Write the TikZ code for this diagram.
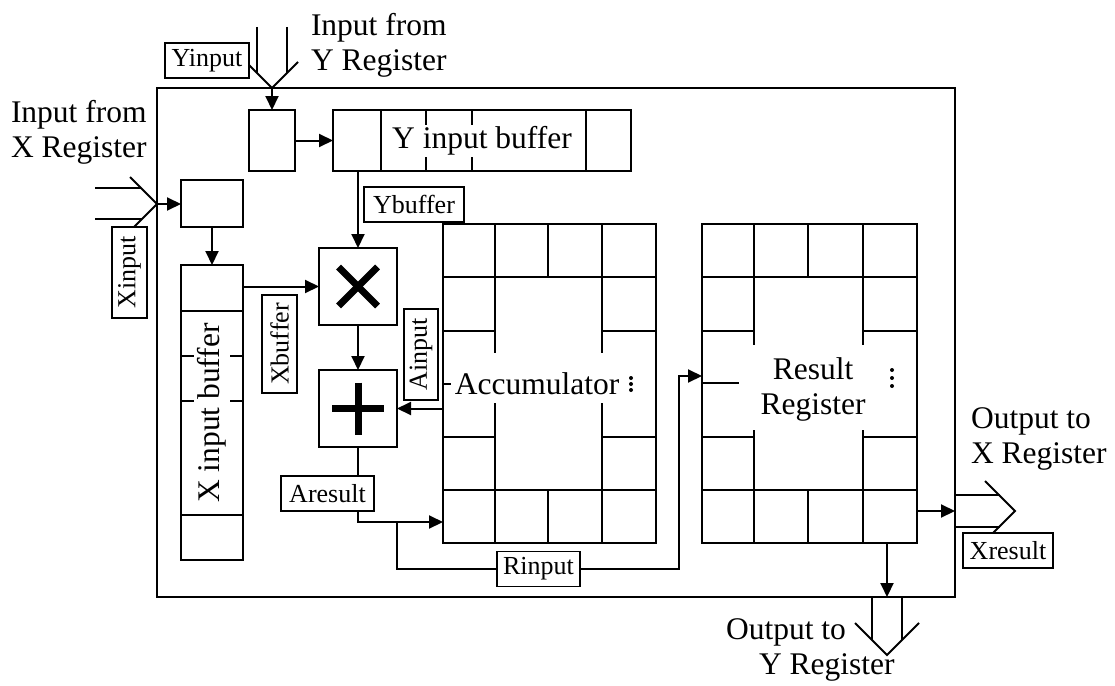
\documentclass[tikz,border=0pt]{standalone}
\usepackage{fontspec}
\setmainfont{Liberation Serif}
\usetikzlibrary{arrows.meta,calc}
\begin{document}
\begin{tikzpicture}[x=1pt,y=-1pt,line width=2pt,
  blk/.style={draw,inner sep=0pt,outer sep=0pt},
  lbl/.style={draw,fill=white,inner sep=0pt,outer sep=0pt,font=\fontsize{26}{28}\selectfont,line width=1.8pt},
  big/.style={font=\fontsize{31.5}{35}\selectfont,inner sep=0pt,align=left},
  arr/.style={-{Triangle[length=14pt,width=13pt]}},
  opsign/.style={line width=7pt}]
\useasboundingbox (0,0) rectangle (1115,685);
% main blocks
\node[blk,minimum width=798pt,minimum height=509pt] (outer) at (556,342.5) {};
\node[blk,minimum width=46pt,minimum height=61pt] (Ybox) at (272,140.5) {};
\node[blk,minimum width=298pt,minimum height=61pt] (Ybuf) at (482,140.5) {};
\node[blk,minimum width=62pt,minimum height=47pt] (Xbox) at (212,203.5) {};
\node[blk,minimum width=62pt,minimum height=295pt] (Xbuf) at (212,412.5) {};
\node[blk,minimum width=78pt,minimum height=77pt] (mul) at (358,286.5) {};
\node[blk,minimum width=78pt,minimum height=77pt] (add) at (358,408.5) {};
\node[blk,minimum width=213pt,minimum height=319pt] (acc) at (549.5,383) {};
\node[blk,minimum width=215pt,minimum height=319pt] (res) at (809.5,383) {};
% Y input buffer dividers
\draw (381,110) -- (381,171) (586,110) -- (586,171);
\draw (426,110) -- (426,125) (426,157) -- (426,171);
\draw (472,110) -- (472,125) (472,157) -- (472,171);
\node[big] (Ytxt) at (482,141) {Y input buffer};
% X input buffer dividers
\draw (181,311) -- (243,311) (181,515) -- (243,515);
\draw (181,356) -- (194,356) (230,356) -- (243,356);
\draw (181,401) -- (194,401) (230,401) -- (243,401);
\node[big,rotate=90] (Xtxt) at (212,413) {X input buffer};
% operator signs
\draw[opsign] ($(mul)+(-19.5,-19.5)$) -- ($(mul)+(19.5,19.5)$);
\draw[opsign] ($(mul)+(-19.5,19.5)$) -- ($(mul)+(19.5,-19.5)$);
\draw[opsign] ($(add)+(-26,0)$) -- ($(add)+(26,0)$);
\draw[opsign] ($(add)+(0,-26)$) -- ($(add)+(0,26)$);
% accumulator grid
\draw (443,277) -- (656,277) (443,490) -- (656,490);
\draw (443,331) -- (495,331) (602,331) -- (656,331);
\draw (443,437) -- (495,437) (602,437) -- (656,437);
\draw (495,223.5) -- (495,353) (495,403) -- (495,542.5);
\draw (602,223.5) -- (602,353) (602,403) -- (602,542.5);
\draw (548,223.5) -- (548,277) (548,490) -- (548,542.5);
\draw (443,384) -- (451,384);
\node[big] (acctxt) at (537,384) {Accumulator};
\foreach \yy in {378,384,390} \fill (631,\yy) circle (2pt);
% result register grid
\draw (702,277) -- (917,277) (702,490) -- (917,490);
\draw (702,331) -- (754,331) (863,331) -- (917,331);
\draw (702,437) -- (754,437) (863,437) -- (917,437);
\draw (754,223.5) -- (754,345) (754,430) -- (754,542.5);
\draw (863,223.5) -- (863,345) (863,430) -- (863,542.5);
\draw (808,223.5) -- (808,277) (808,490) -- (808,542.5);
\draw (702,383) -- (739,383);
\node[big,align=center] (restxt) at (813,389) {Result\\Register};
\foreach \yy in {370,378,386} \fill (892,\yy) circle (2pt);
% connectors
\coordinate (ytip) at (272,88);
\coordinate (xtip) at (157,204);
\coordinate (xout) at (955,511);
\coordinate (yout) at (887,597);
\coordinate (abend) at (358,522);
\coordinate (br) at (397,522);
\coordinate (rup) at (679,376);
\draw[arr] (ytip) -- (Ybox.north);
\draw[arr] (xtip) -- (xtip -| Xbox.west);
\draw[arr] (Ybox.east) -- (Ybuf.west);
\draw[arr] (Xbox.south) -- (Xbuf.north);
\draw[arr] (Ybuf.south -| mul.north) -- (mul.north);
\draw[arr] (Xbuf.east |- mul.west) -- (mul.west);
\draw[arr] (mul.south) -- (add.north);
\draw[arr] (acc.west |- add.east) -- (add.east);
\draw[arr] (add.south) -- (abend) -- (abend -| acc.west);
\draw[arr] (res.east |- xout) -- (xout);
\draw[arr] (res.south -| yout) -- (yout);
% hollow input/output arrows
\draw (246,62) -- (ytip) -- (298,62);
\draw (257,27) -- (257,73) (287,27) -- (287,73);
\draw (130,177) -- (xtip) -- (130,231);
\draw (95,188) -- (141,188) (95,219) -- (142,219);
\draw (985,481) -- (1015,511) -- (985,541);
\draw (955,495) -- (1000,495) (955,527) -- (1000,527);
\draw (855,623) -- (887,655) -- (919,623);
\draw (872,597) -- (872,640) (902,597) -- (902,640);
% labels
\node[lbl,minimum width=84pt,minimum height=35pt] (Yinput) at (207,60.5) {Yinput};
\node[lbl,minimum width=100pt,minimum height=35pt] (Ybuffer) at (414,204.5) {Ybuffer};
\node[lbl,rotate=90,minimum width=91pt,minimum height=35pt] (Xinput) at (129.5,272.5) {Xinput};
\node[lbl,rotate=90,minimum width=98pt,minimum height=35pt] (Xbuffer) at (279.5,344) {Xbuffer};
\node[lbl,rotate=90,minimum width=91pt,minimum height=34pt] (Ainput) at (421,354.5) {Ainput};
\node[lbl,minimum width=93pt,minimum height=35pt] (Aresult) at (327.5,493.5) {Aresult};
\node[lbl,minimum width=83pt,minimum height=35pt] (Rinput) at (538.5,569) {Rinput};
\node[lbl,minimum width=90pt,minimum height=35pt] (Xresult) at (1008,550.5) {Xresult};
\draw (br) |- (Rinput.west);
\draw[arr] (Rinput.east) -| (rup) -- (rup -| res.west);
% outside texts
\node[big,anchor=west] (inY) at (310,45) {Input from\\Y Register};
\node[big,anchor=west] (inX) at (10,132) {Input from\\X Register};
\node[big,anchor=west] (outX) at (970,438.5) {Output to\\X Register};
\node[big,anchor=west] (outY) at (725,650) {Output to\\\hspace*{33pt}Y Register};
\end{tikzpicture}
\end{document}
